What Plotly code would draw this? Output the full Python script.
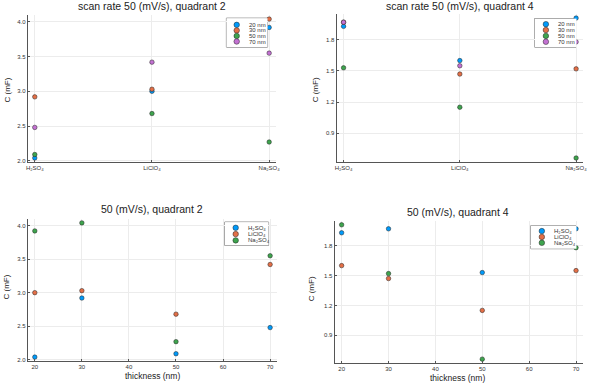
import plotly.graph_objects as go

# ---- data ----
electrolytes = ["H₂SO₄", "LiClO₄", "Na₂SO₄"]
thickness_nm = [20, 30, 50, 70]
thickness_labels = ["20 nm", "30 nm", "50 nm", "70 nm"]

# capacitance C (mF), rows = electrolyte, columns = thickness
q2_H2SO4 = [2.04, 2.92, 2.09, 2.48]
q2_LiClO4 = [3.00, 3.03, 2.68, 3.42]
q2_Na2SO4 = [3.92, 4.04, 2.27, 3.55]

q4_H2SO4 = [1.93, 1.97, 1.53, 1.97]
q4_LiClO4 = [1.60, 1.47, 1.15, 1.55]
q4_Na2SO4 = [2.01, 1.52, 0.66, 1.78]

q2 = [q2_H2SO4, q2_LiClO4, q2_Na2SO4]
q4 = [q4_H2SO4, q4_LiClO4, q4_Na2SO4]

colors = ["#009AFA", "#E36F47", "#3EA44E", "#C371D2"]
FONT = "Liberation Sans"
AXC = "#555555"
GRID = "#ececec"

fig = go.Figure()

W, H = 594, 385
def dx(a, b):
    return [a / W, b / W]
def dy(top, bot):
    return [1 - bot / H, 1 - top / H]

# panel geometry (pixels)
panels = {
    1: dict(x=dx(26, 277), y=dy(15, 163)),
    2: dict(x=dx(338, 587), y=dy(14, 163)),
    3: dict(x=dx(26, 278), y=dy(220, 363)),
    4: dict(x=dx(336, 587), y=dy(222, 365)),
}
legend_boxes = {
    5: dict(x=dx(226.7, 268.3), y=dy(18.3, 47.3), yr=[4.0, -1.2], mx=0.25, tx=0.51),
    6: dict(x=dx(538, 580.3), y=dy(18.7, 47.3), yr=[3.9, -0.95], mx=0.27, tx=0.52),
    7: dict(x=dx(225, 269.3), y=dy(223.3, 246.7), yr=[2.8, -0.9], mx=0.25, tx=0.49),
    8: dict(x=dx(534.3, 580.3), y=dy(226.7, 250), yr=[3.0, -0.95], mx=0.24, tx=0.46),
}

mk = lambda c: dict(size=4.5, color=c, line=dict(width=0.5, color="#222222"))

cat_idx = list(range(len(electrolytes)))
# top panels: x = electrolyte, series = thickness
for p, data in ((1, q2), (2, q4)):
    for j, lab in enumerate(thickness_labels):
        fig.add_trace(go.Scatter(
            x=cat_idx, y=[data[i][j] for i in range(len(electrolytes))],
            mode="markers", marker=mk(colors[j]), name=lab, showlegend=False,
            xaxis=f"x{p}", yaxis=f"y{p}"))
# bottom panels: x = thickness, series = electrolyte
for p, data in ((3, q2), (4, q4)):
    for i, lab in enumerate(electrolytes):
        fig.add_trace(go.Scatter(
            x=thickness_nm, y=data[i], mode="markers", marker=mk(colors[i]),
            name=lab, showlegend=False, xaxis=f"x{p}", yaxis=f"y{p}"))

# manual legends on hidden axes
for p, labels in ((5, thickness_labels), (6, thickness_labels),
                  (7, electrolytes), (8, electrolytes)):
    lb = legend_boxes[p]
    for k, lab in enumerate(labels):
        fig.add_trace(go.Scatter(
            x=[lb["mx"]], y=[k], mode="markers",
            marker=dict(size=5.5, color=colors[k], line=dict(width=0.5, color="#222222")),
            showlegend=False, hoverinfo="skip", xaxis=f"x{p}", yaxis=f"y{p}"))
        fig.add_annotation(x=lb["tx"], y=k, xref=f"x{p}", yref=f"y{p}", text=lab,
                           showarrow=False, xanchor="left", yanchor="middle",
                           font=dict(family=FONT, size=6, color="#333333"))
    fig.add_shape(type="rect", xref=f"x{p} domain", yref=f"y{p} domain",
                  x0=0, x1=1, y0=0, y1=1, line=dict(color="#666666", width=1),
                  fillcolor="rgba(0,0,0,0)", layer="below")

axis_common = dict(showgrid=True, gridcolor=GRID, gridwidth=1, zeroline=False,
                   showline=True, linecolor=AXC, linewidth=1, mirror=False,
                   ticks="inside", ticklen=2, tickcolor=AXC,
                   tickfont=dict(family=FONT, size=6, color="#333333"))

layout = dict(width=W, height=H, margin=dict(l=0, r=0, t=0, b=0),
              plot_bgcolor="white", paper_bgcolor="white", showlegend=False)

for p in (1, 2):
    layout[f"xaxis{p}"] = dict(axis_common, domain=panels[p]["x"], anchor=f"y{p}",
                               range=[-0.06, 2.06], tickvals=cat_idx, ticktext=electrolytes)
for p in (3, 4):
    layout[f"xaxis{p}"] = dict(axis_common, domain=panels[p]["x"], anchor=f"y{p}",
                               range=[18.5, 71.5], tickvals=[20, 30, 40, 50, 60, 70])
layout["yaxis1"] = dict(axis_common, domain=panels[1]["y"], anchor="x1",
                        range=[1.98, 4.10], tickvals=[2.0, 2.5, 3.0, 3.5, 4.0], tickformat=".1f")
layout["yaxis3"] = dict(axis_common, domain=panels[3]["y"], anchor="x3",
                        range=[1.98, 4.10], tickvals=[2.0, 2.5, 3.0, 3.5, 4.0], tickformat=".1f")
layout["yaxis2"] = dict(axis_common, domain=panels[2]["y"], anchor="x2",
                        range=[0.62, 2.05], tickvals=[0.9, 1.2, 1.5, 1.8], tickformat=".1f")
layout["yaxis4"] = dict(axis_common, domain=panels[4]["y"], anchor="x4",
                        range=[0.62, 2.05], tickvals=[0.9, 1.2, 1.5, 1.8], tickformat=".1f")
for p in (5, 6, 7, 8):
    lb = legend_boxes[p]
    layout[f"xaxis{p}"] = dict(domain=lb["x"], anchor=f"y{p}", range=[0, 1], visible=False, fixedrange=True)
    layout[f"yaxis{p}"] = dict(domain=lb["y"], anchor=f"x{p}", range=lb["yr"], visible=False, fixedrange=True)

fig.update_layout(**layout)

def txt(x, y, s, size, angle=0):
    fig.add_annotation(x=x / W, y=1 - y / H, xref="paper", yref="paper", text=s,
                       showarrow=False, xanchor="center", yanchor="middle", textangle=angle,
                       font=dict(family=FONT, size=size, color="#222222"))

txt(152, 6, "scan rate 50 (mV/s), quadrant 2", 10.5)
txt(463, 6, "scan rate 50 (mV/s), quadrant 4", 10.5)
txt(152, 210, "50 (mV/s), quadrant 2", 10.5)
txt(461, 213, "50 (mV/s), quadrant 4", 10.5)
txt(6, 90, "C (mF)", 8, -90)
txt(317, 90, "C (mF)", 8, -90)
txt(5, 288, "C (mF)", 8, -90)
txt(313, 290, "C (mF)", 8, -90)
txt(152, 377.5, "thickness (nm)", 8.5)
txt(460, 379.5, "thickness (nm)", 8.5)

fig.write_html("out.html", config={"displayModeBar": False},
               post_script="document.body.style.margin='0px';document.body.style.padding='0px';document.body.style.overflow='hidden';")
